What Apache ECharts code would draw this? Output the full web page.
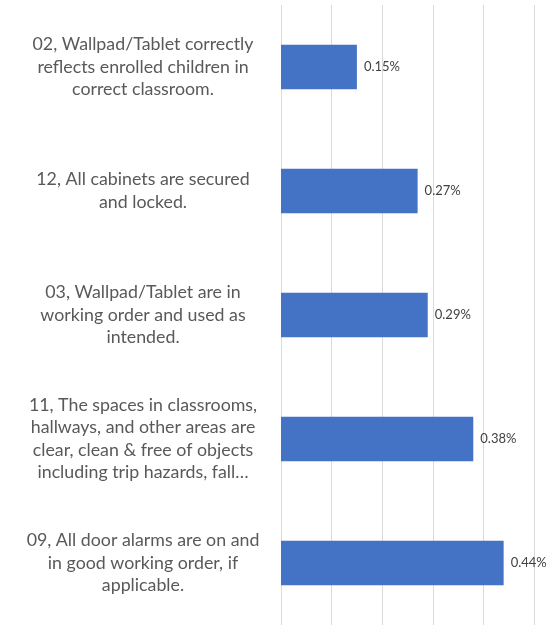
<!DOCTYPE html>
<html><head><meta charset="utf-8">
<script src="https://cdn.jsdelivr.net/npm/echarts@6/dist/echarts.min.js"></script>
<style>html,body{margin:0;padding:0;background:#fff}#c{width:547px;height:625px}</style>
</head><body><div id="c"></div>
<script>
var categories = [
  "02, Wallpad/Tablet correctly\nreflects enrolled children in\ncorrect classroom.",
  "12, All cabinets are secured\nand locked.",
  "03, Wallpad/Tablet are in\nworking order and used as\nintended.",
  "11, The spaces in classrooms,\nhallways, and other areas are\nclear, clean & free of objects\nincluding trip hazards, fall\u2026",
  "09, All door alarms are on and\nin good working order, if\napplicable."
];
var values = [0.15, 0.27, 0.29, 0.38, 0.44];
var chart = echarts.init(document.getElementById('c'), null, {renderer:'canvas'});
chart.setOption({
  animation: false,
  grid: {left: 281, right: 13, top: 5, bottom: -1, containLabel: false},
  xAxis: {
    type: 'value', min: 0, max: 0.5, interval: 0.1,
    axisLabel: {show: false}, axisLine: {show: false}, axisTick: {show: false},
    splitLine: {show: true, lineStyle: {color: '#d9d9d9', width: 1}}
  },
  yAxis: {
    type: 'category', data: categories, inverse: true,
    axisLine: {show: false}, axisTick: {show: false},
    axisLabel: {
      align: 'right', margin: 16,
      formatter: function(v){ return v.split('\n').map(function(s){ return '{a|' + s + '}'; }).join('\n'); },
      rich: {a: {width: 244, align: 'center', color: '#595959', fontFamily: 'Lato, "Open Sans", sans-serif', fontSize: 17.8, lineHeight: 22.5}}
    }
  },
  series: [{
    type: 'bar', data: values, barWidth: '36%',
    itemStyle: {color: '#4472C4'},
    label: {show: true, position: 'right', distance: 7, color: '#404040', fontSize: 13, fontFamily: 'Lato, "Open Sans", sans-serif',
      formatter: function(p){ return p.value.toFixed(2) + '%'; }}
  }]
});
</script></body></html>
